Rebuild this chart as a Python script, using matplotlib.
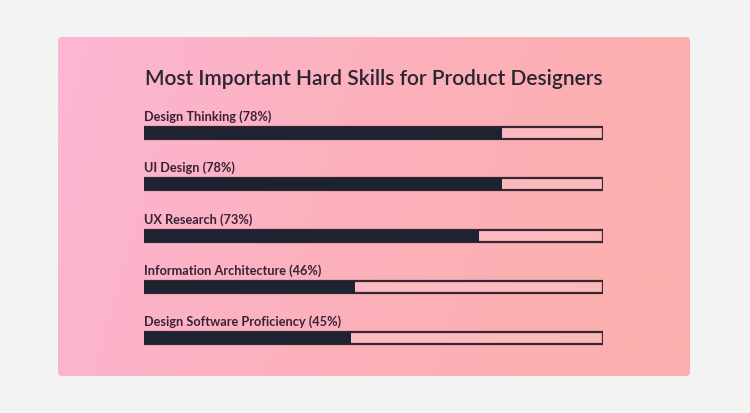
import matplotlib.pyplot as plt
import numpy as np
from matplotlib.patches import FancyBboxPatch
from matplotlib.colors import LinearSegmentedColormap

skills = ["Design Thinking", "UI Design", "UX Research",
          "Information Architecture", "Design Software Proficiency"]
percent = [78, 78, 73, 46, 45]
title = "Most Important Hard Skills for Product Designers"

plt.rcParams["font.family"] = ["Lato", "DejaVu Sans"]

W, H = 750, 413
fig = plt.figure(figsize=(W / 100, H / 100), dpi=100)
fig.patch.set_facecolor("#f3f3f3")

# pink card with a soft left-to-right gradient
card_l, card_t, card_r, card_b = 58, 37, 690, 376
bg = fig.add_axes([0, 0, 1, 1])
bg.set_xlim(0, W)
bg.set_ylim(H, 0)
bg.axis("off")
grad = LinearSegmentedColormap.from_list("card", ["#fcb6d4", "#fcb1bd", "#fbafae"])
gx = np.linspace(0, 1, 256)[None, :] * np.ones((32, 1))
gy = np.linspace(0, 0.15, 32)[:, None]
img = bg.imshow(np.clip(gx + gy, 0, 1), cmap=grad, aspect="auto",
                extent=(card_l, card_r, card_b, card_t), zorder=1)
card = FancyBboxPatch((card_l, card_t), card_r - card_l, card_b - card_t,
                      boxstyle="round,pad=0,rounding_size=4",
                      facecolor="none", edgecolor="none", zorder=2)
bg.add_patch(card)
img.set_clip_path(card)

# bar axes
top_px, step = 133, 51.25
ax_top = top_px - step / 2
ax_h = step * len(skills)
ax = fig.add_axes([144 / W, 1 - (ax_top + ax_h) / H, 459 / W, ax_h / H])
ax.set_facecolor("none")
ax.set_xlim(0, 100)
ax.set_ylim(len(skills) - 0.5, -0.5)
ax.axis("off")

y = np.arange(len(skills))
bh = 12 / step
ax.barh(y, [100] * len(skills), height=bh, color=(1, 1, 1, 0.15),
        edgecolor="#3a2530", linewidth=1.6, zorder=2)
ax.barh(y, percent, height=bh, color="#1d2331", edgecolor="none", zorder=3)

for i, (name, p) in enumerate(zip(skills, percent)):
    ax.text(0, i - bh / 2 - 6 / step, f"{name} ({p}%)", fontsize=9.2,
            fontweight="bold", color="#3a2236", va="baseline", ha="left")

fig.text(145 / W, 1 - 85 / H, title, fontsize=15.0, fontweight="semibold",
         color="#2a2330", ha="left", va="baseline")

fig.savefig("out.png", dpi=100, facecolor=fig.get_facecolor())
